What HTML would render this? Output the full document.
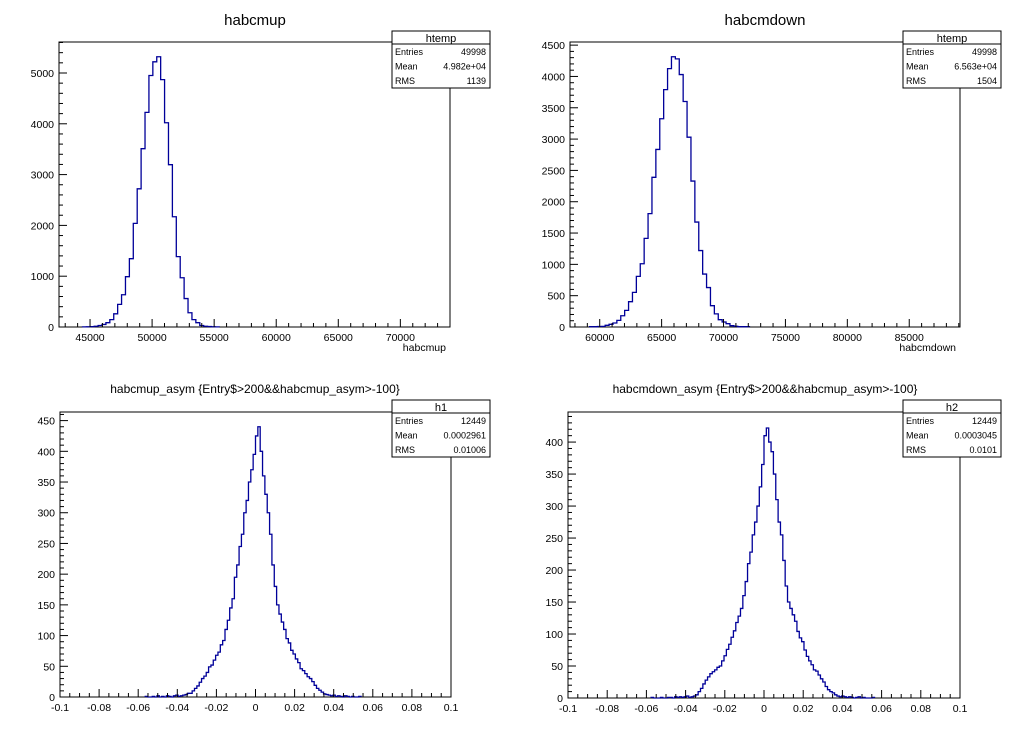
<!DOCTYPE html>
<html><head><meta charset="utf-8"><style>
html,body{margin:0;padding:0;background:#fff;}
svg{display:block;font-family:"Liberation Sans",Arial,sans-serif;}
</style></head><body>
<svg id="c" width="1020" height="740" viewBox="0 0 1020 740" xmlns="http://www.w3.org/2000/svg"></svg>
<script>
// ---- data: habcmup (100 bins, 42500..74000) ----
const upBinsLo = 42500, upBinsHi = 74000;
const upCounts = [0,0,0,0,0,0,2,5,8,15,30,50,85,145,260,445,635,990,1345,2040,2720,3510,4225,4950,5220,5320,4870,4020,3195,2170,1385,970,560,280,145,85,30,15,10,5,3,0,0,0,0,0,0,0,0,0,0,0,0,0,0,0,0,0,0,0,0,0,0,0,0,0,0,0,0,0,0,0,0,0,0,0,0,0,0,0,0,0,0,0,0,0,0,0,0,0,0,0,0,0,0,0,0,0,0,0];
const upXTicks = [45000,50000,55000,60000,65000,70000];
const upYTicks = [0,1000,2000,3000,4000,5000];
// ---- data: habcmdown (100 bins) ----
const dnBinsLo = 57920, dnBinsHi = 89420;
const dnCounts = [0,0,0,0,5,5,8,10,27,43,64,106,180,266,404,553,808,1010,1415,1810,2390,2835,3325,3790,4125,4315,4280,4030,3600,3030,2330,1675,1220,845,630,340,210,117,80,53,21,11,5,5,5,0,0,0,0,0,0,0,0,0,0,0,0,0,0,0,0,0,0,0,0,0,0,0,0,0,0,0,0,0,0,0,0,0,0,0,0,0,0,0,0,0,0,0,0,0,0,0,0,0,0,0,0,0,0,0];
const dnXTicks = [60000,65000,70000,75000,80000,85000];
const dnYTicks = [0,500,1000,1500,2000,2500,3000,3500,4000,4500];
// ---- data: asym (100 bins) ----
const asymBinsLo = -0.06, asymBinsHi = 0.06;
const h1Counts = [0,0,0,1,0,0,1,0,2,0,1,0,2,1,0,2,3,1,2,3,
 4,6,6,10,14,18,24,30,34,40,
 49,52,60,68,73,85,92,110,125,145,
 160,195,215,245,265,300,320,350,370,395,
 425,440,400,360,330,300,265,215,180,150,
 135,122,110,95,88,76,70,62,56,46,
 43,38,33,30,25,19,14,11,8,5,
 4,3,2,3,1,2,1,0,2,1,0,1,0,0,1,0,0,0,0,0];
const h2Counts = [0,0,1,0,0,0,1,0,0,1,1,0,2,1,2,1,2,3,1,2,
 3,5,10,15,22,28,33,38,41,44,
 48,50,58,66,76,84,95,105,118,128,
 140,160,182,210,228,255,275,300,330,365,
 410,422,400,385,350,310,275,255,215,175,
 150,140,130,120,104,94,88,75,65,58,
 52,44,42,36,30,25,18,13,10,8,
 5,3,2,3,2,1,2,1,0,1,2,0,1,0,0,0,1,0,0,0];
const asymXTicks = [-0.1,-0.08,-0.06,-0.04,-0.02,0,0.02,0.04,0.06,0.08,0.1];
const h1YTicks = [0,50,100,150,200,250,300,350,400,450];
const h2YTicks = [0,50,100,150,200,250,300,350,400];

const NS = "http://www.w3.org/2000/svg";
const svg = document.getElementById('c');
function mk(tag, attrs, parent){
  const e = document.createElementNS(NS, tag);
  for (const k in attrs) e.setAttribute(k, attrs[k]);
  (parent||svg).appendChild(e);
  return e;
}
function txt(s, x, y, size, anchor, parent){
  const t = mk('text', {x:x, y:y, 'font-size':size, 'text-anchor':anchor||'start', fill:'#000'}, parent);
  t.textContent = s;
  return t;
}

function panel(o){
  const g = mk('g', {});
  
  
  const X = v => o.x0 + (v - o.xmin) / (o.xmax - o.xmin) * (o.x1 - o.x0);
  const Y = v => o.y1 - (v - o.ymin) / (o.ymax - o.ymin) * (o.y1 - o.y0);
  const tt = txt(o.title, o.tx, o.ty, o.tsize, 'middle', g);
  
  
  const fr = mk('rect', {x:o.x0, y:o.y0, width:o.x1-o.x0, height:o.y1-o.y0, fill:'none', stroke:'#000', 'stroke-width':1}, g);
  
  
  const n = o.counts.length, bw = (o.hbHi - o.hbLo) / n;
  let first = 0, last = n - 1;
  while (first < n && o.counts[first] === 0) first++;
  while (last > 0 && o.counts[last] === 0) last--;
  let d = 'M' + X(o.hbLo + first*bw).toFixed(2) + ' ' + Y(0).toFixed(2);
  for (let i = first; i <= last; i++){
    const xa = X(o.hbLo + i*bw), xb = X(o.hbLo + (i+1)*bw), y = Y(o.counts[i]);
    d += ' L' + xa.toFixed(2) + ' ' + y.toFixed(2) + ' L' + xb.toFixed(2) + ' ' + y.toFixed(2);
  }
  d += ' L' + X(o.hbLo + (last+1)*bw).toFixed(2) + ' ' + Y(0).toFixed(2);
  const p = mk('path', {d:d, fill:'none', stroke:'#000099', 'stroke-width':1.3}, g);
  
  
  const ax = mk('g', {stroke:'#000', 'stroke-width':1}, g);
  
  
  for (let v = o.xminorStart; v <= o.xmax + 1e-9; v += o.xminor){
    const xx = X(v);
    if (xx < o.x0 - 0.5 || xx > o.x1 + 0.5) continue;
    const isMaj = Math.abs(Math.round(v / o.xmajor) * o.xmajor - v) < o.xminor * 0.01;
    mk('line', {x1:xx, x2:xx, y1:o.y1, y2:o.y1 - (isMaj ? 8 : 4)}, ax);
  }
  o.xticks.forEach(v => {
    const t = txt(o.xfmt(v), X(v), o.y1 + 14, 10.5, 'middle', g);
    
    
  });
  const ay = mk('g', {stroke:'#000', 'stroke-width':1}, g);
  
  
  for (let v = o.ymin; v <= o.ymax + 1e-9; v += o.yminor){
    const yy = Y(v);
    const isMaj = Math.abs(Math.round(v / o.ymajor) * o.ymajor - v) < 1e-6;
    mk('line', {x1:o.x0, x2:o.x0 + (isMaj ? 8 : 4), y1:yy, y2:yy}, ay);
  }
  o.yticks.forEach(v => {
    const t = txt(String(v), o.x0 - 5, Y(v) + 4, 10.5, 'end', g);
    
    
  });
  if (o.xtitle){
    const t = txt(o.xtitle, o.x1 - 4, o.y1 + 24, 10.5, 'end', g);
    
    
  }
  const sb = mk('g', {}, g);
  
  
  const bx = o.sx, by = o.sy, bwid = 98, bh = 57;
  mk('rect', {x:bx, y:by, width:bwid, height:bh, fill:'#fff', stroke:'#000', 'stroke-width':1}, sb);
  mk('line', {x1:bx, x2:bx+bwid, y1:by+13, y2:by+13, stroke:'#000'}, sb);
  txt(o.sname, bx + bwid/2, by + 11, 11, 'middle', sb);
  const rows = [['Entries', o.entries], ['Mean', o.mean], ['RMS', o.rms]];
  rows.forEach((r, i) => {
    txt(r[0], bx + 3, by + 24 + i*14.5, 9, 'start', sb);
    txt(r[1], bx + bwid - 4, by + 24 + i*14.5, 9, 'end', sb);
  });
}

const asymFmt = v => (Math.abs(v) < 1e-12 ? '0' : String(+v.toFixed(2)));

panel({name:'panel-habcmup', title:'habcmup', tx:255, ty:25, tsize:15,
  x0:59, x1:450, y0:42, y1:327, xmin:42500, xmax:74000, ymin:0, ymax:5610,
  hbLo:upBinsLo, hbHi:upBinsHi, counts:upCounts,
  xticks:upXTicks, xmajor:5000, xminor:1000, xminorStart:43000, xfmt:v=>String(v),
  yticks:upYTicks, ymajor:1000, yminor:200, xtitle:'habcmup',
  sx:392, sy:31, sname:'htemp', entries:'49998', mean:'4.982e+04', rms:'1139'});

panel({name:'panel-habcmdown', title:'habcmdown', tx:765, ty:25, tsize:15,
  x0:570, x1:960, y0:42, y1:327, xmin:57600, xmax:89100, ymin:0, ymax:4550,
  hbLo:dnBinsLo, hbHi:dnBinsHi, counts:dnCounts,
  xticks:dnXTicks, xmajor:5000, xminor:1000, xminorStart:58000, xfmt:v=>String(v),
  yticks:dnYTicks, ymajor:500, yminor:100, xtitle:'habcmdown',
  sx:903, sy:31, sname:'htemp', entries:'49998', mean:'6.563e+04', rms:'1504'});

panel({name:'panel-habcmup-asym', title:'habcmup_asym {Entry$>200&&habcmup_asym>-100}', tx:255, ty:393, tsize:12,
  x0:60, x1:451, y0:412, y1:697, xmin:-0.1, xmax:0.1, ymin:0, ymax:464,
  hbLo:asymBinsLo, hbHi:asymBinsHi, counts:h1Counts,
  xticks:asymXTicks, xmajor:0.02, xminor:0.005, xminorStart:-0.1, xfmt:asymFmt,
  yticks:h1YTicks, ymajor:50, yminor:10, xtitle:'',
  sx:392, sy:400, sname:'h1', entries:'12449', mean:'0.0002961', rms:'0.01006'});

panel({name:'panel-habcmdown-asym', title:'habcmdown_asym {Entry$>200&&habcmup_asym>-100}', tx:765, ty:393, tsize:12,
  x0:568, x1:960, y0:412, y1:698, xmin:-0.1, xmax:0.1, ymin:0, ymax:447,
  hbLo:asymBinsLo, hbHi:asymBinsHi, counts:h2Counts,
  xticks:asymXTicks, xmajor:0.02, xminor:0.005, xminorStart:-0.1, xfmt:asymFmt,
  yticks:h2YTicks, ymajor:50, yminor:10, xtitle:'',
  sx:903, sy:400, sname:'h2', entries:'12449', mean:'0.0003045', rms:'0.0101'});
</script>
</body></html>
